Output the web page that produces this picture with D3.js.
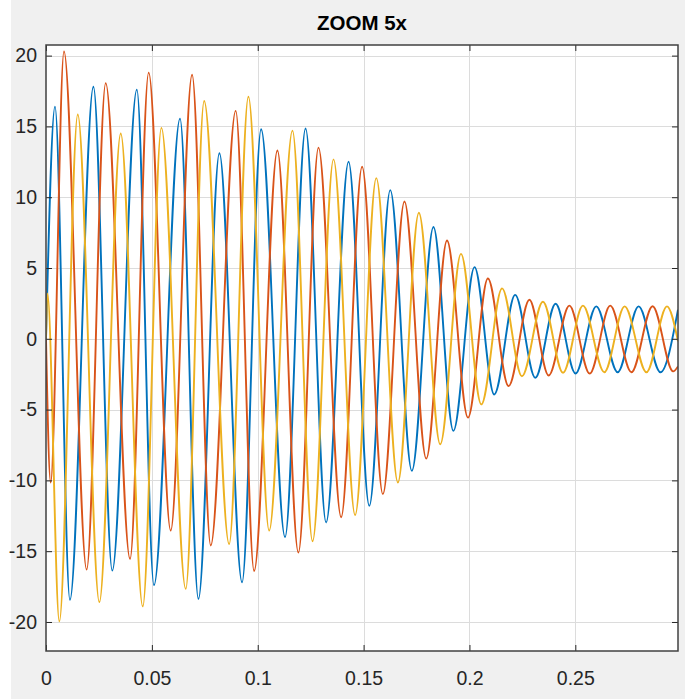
<!DOCTYPE html>
<html>
<head>
<meta charset="utf-8">
<script src="https://cdn.jsdelivr.net/npm/d3@7"></script>
<style>
  html, body { margin: 0; padding: 0; background: #ffffff; }
  svg { display: block; }
</style>
</head>
<body>
<svg id="chart" width="692" height="699"></svg>
<script>
// ---- data: extrema (time in s, value) ----
const titleText = "ZOOM 5x";
const xTicks = [0, 0.05, 0.1, 0.15, 0.2, 0.25];
const yTicks = [-20, -15, -10, -5, 0, 5, 10, 15, 20];
const xDomain = [0, 0.2985];
const yDomain = [-22.05, 20.75];

const blueT = [0, 0.00425, 0.0113, 0.0224, 0.0313, 0.0429, 0.051, 0.0633, 0.072, 0.0819, 0.0926,
  0.1016, 0.1129, 0.1226, 0.1323, 0.1429, 0.1527, 0.1626, 0.1728, 0.183, 0.1924, 0.2024, 0.2117,
  0.2216, 0.2311, 0.2407, 0.2501, 0.2599, 0.27, 0.2799, 0.2902, 0.2985];
const blueV = [0, 16.4, -18.44, 17.8, -16.37, 17.6, -17.4, 15.55, -18.37, 13.1, -17.2,
  14.8, -14.0, 14.85, -12.97, 12.5, -11.8, 10.5, -9.33, 7.9, -6.5, 5.06, -3.93,
  3.1, -2.75, 2.48, -2.45, 2.29, -2.36, 2.29, -2.36, 2.06];

const orangeT = [0, 0.0022, 0.0085, 0.0192, 0.0282, 0.0397, 0.0485, 0.0589, 0.069, 0.0778, 0.0896,
  0.0983, 0.1093, 0.1192, 0.1287, 0.1394, 0.1493, 0.1591, 0.1693, 0.1796, 0.1894, 0.1993, 0.2087,
  0.2185, 0.2283, 0.2374, 0.2472, 0.2568, 0.2665, 0.2765, 0.2865, 0.2962, 0.2985];
const orangeV = [0, -10.15, 20.3, -16.3, 18.06, -15.55, 18.8, -13.55, 18.65, -14.6, 16.1,
  -16.4, 13.3, -15.1, 13.5, -12.6, 12.15, -10.97, 9.7, -8.46, 6.94, -5.57, 4.26,
  -3.34, 2.76, -2.59, 2.34, -2.45, 2.34, -2.36, 2.3, -2.3, -1.95];

const yellowT = [0, 0.0007, 0.0063, 0.015, 0.0252, 0.0353, 0.0457, 0.0545, 0.066, 0.0747, 0.0865,
  0.0956, 0.1054, 0.1164, 0.1259, 0.1358, 0.146, 0.156, 0.1662, 0.1761, 0.1862, 0.196, 0.2056,
  0.2154, 0.2248, 0.2347, 0.2442, 0.2536, 0.2637, 0.2733, 0.2836, 0.2933, 0.2985];
const yellowV = [0, 3.2, -19.96, 15.84, -18.6, 14.5, -18.9, 14.9, -17.66, 16.8, -14.5,
  17.1, -13.55, 14.7, -14.3, 12.67, -12.45, 11.35, -10.15, 8.9, -7.45, 6.0, -4.63,
  3.56, -2.64, 2.62, -2.4, 2.34, -2.36, 2.29, -2.36, 2.29, -0.17];

const seriesColors = ["#0072BD", "#D95319", "#EDB120"];

// ---- layout ----
const svg = d3.select("#chart");
const W = 692, H = 699;
const plot = { left: 46, top: 45, right: 678, bottom: 651 };

svg.append("rect").attr("x", 11).attr("y", 0).attr("width", 674).attr("height", H)
  .attr("fill", "#f0f0f0");

const x = d3.scaleLinear().domain(xDomain).range([plot.left, plot.right]);
const y = d3.scaleLinear().domain(yDomain).range([plot.bottom, plot.top]);

svg.append("rect").attr("x", plot.left).attr("y", plot.top)
  .attr("width", plot.right - plot.left).attr("height", plot.bottom - plot.top)
  .attr("fill", "#ffffff");

// grid
const grid = svg.append("g").attr("stroke", "#dcdcdc").attr("stroke-width", 1).attr("shape-rendering", "crispEdges");
grid.selectAll("line.gx").data(xTicks.filter(d => d > 0)).join("line")
  .attr("x1", d => Math.round(x(d)) + 0.5).attr("x2", d => Math.round(x(d)) + 0.5)
  .attr("y1", plot.top).attr("y2", plot.bottom);
grid.selectAll("line.gy").data(yTicks).join("line")
  .attr("y1", d => Math.round(y(d)) + 0.5).attr("y2", d => Math.round(y(d)) + 0.5)
  .attr("x1", plot.left).attr("x2", plot.right);

// lines
svg.append("clipPath").attr("id", "clip").append("rect")
  .attr("x", plot.left).attr("y", plot.top)
  .attr("width", plot.right - plot.left).attr("height", plot.bottom - plot.top);

const line = d3.line().x(d => x(d[0])).y(d => y(d[1])).curve(d3.curveMonotoneX);
const series = [
  d3.zip(blueT, blueV),
  d3.zip(orangeT, orangeV),
  d3.zip(yellowT, yellowV)
];
const lg = svg.append("g").attr("clip-path", "url(#clip)");
series.forEach((s, i) => {
  lg.append("path").datum(s).attr("d", line)
    .attr("fill", "none").attr("stroke", seriesColors[i])
    .attr("stroke-width", 1.9).attr("stroke-linejoin", "round");
});

// axes
const axisColor = "#262626";
const fontFam = "'Liberation Sans', Arial, Helvetica, sans-serif";
function styleAxis(g) {
  g.select(".domain").remove();
  g.selectAll(".tick line").attr("stroke", axisColor).attr("stroke-width", 1);
  g.selectAll(".tick text").attr("fill", "#262626").attr("font-family", fontFam).attr("font-size", 19.5);
}
svg.append("g").attr("transform", `translate(0,${plot.bottom})`)
  .call(d3.axisBottom(x).tickValues(xTicks).tickSize(-6).tickPadding(20).tickFormat(d => String(d)))
  .call(styleAxis);
svg.append("g").attr("transform", `translate(0,${plot.top})`)
  .call(d3.axisTop(x).tickValues(xTicks).tickSize(-6).tickFormat(""))
  .call(styleAxis);
svg.append("g").attr("transform", `translate(${plot.left},0)`)
  .call(d3.axisLeft(y).tickValues(yTicks).tickSize(-6).tickPadding(9).tickFormat(d => String(d)))
  .call(styleAxis);
svg.append("g").attr("transform", `translate(${plot.right},0)`)
  .call(d3.axisRight(y).tickValues(yTicks).tickSize(-6).tickFormat(""))
  .call(styleAxis);

// box
svg.append("rect").attr("x", plot.left).attr("y", plot.top)
  .attr("width", plot.right - plot.left).attr("height", plot.bottom - plot.top)
  .attr("fill", "none").attr("stroke", "#404040").attr("stroke-width", 1.5);

// title
svg.append("text").attr("x", (plot.left + plot.right) / 2).attr("y", 30)
  .attr("text-anchor", "middle").attr("font-family", fontFam)
  .attr("font-weight", "bold").attr("font-size", 20.5).attr("fill", "#000")
  .text(titleText);
</script>
</body>
</html>
